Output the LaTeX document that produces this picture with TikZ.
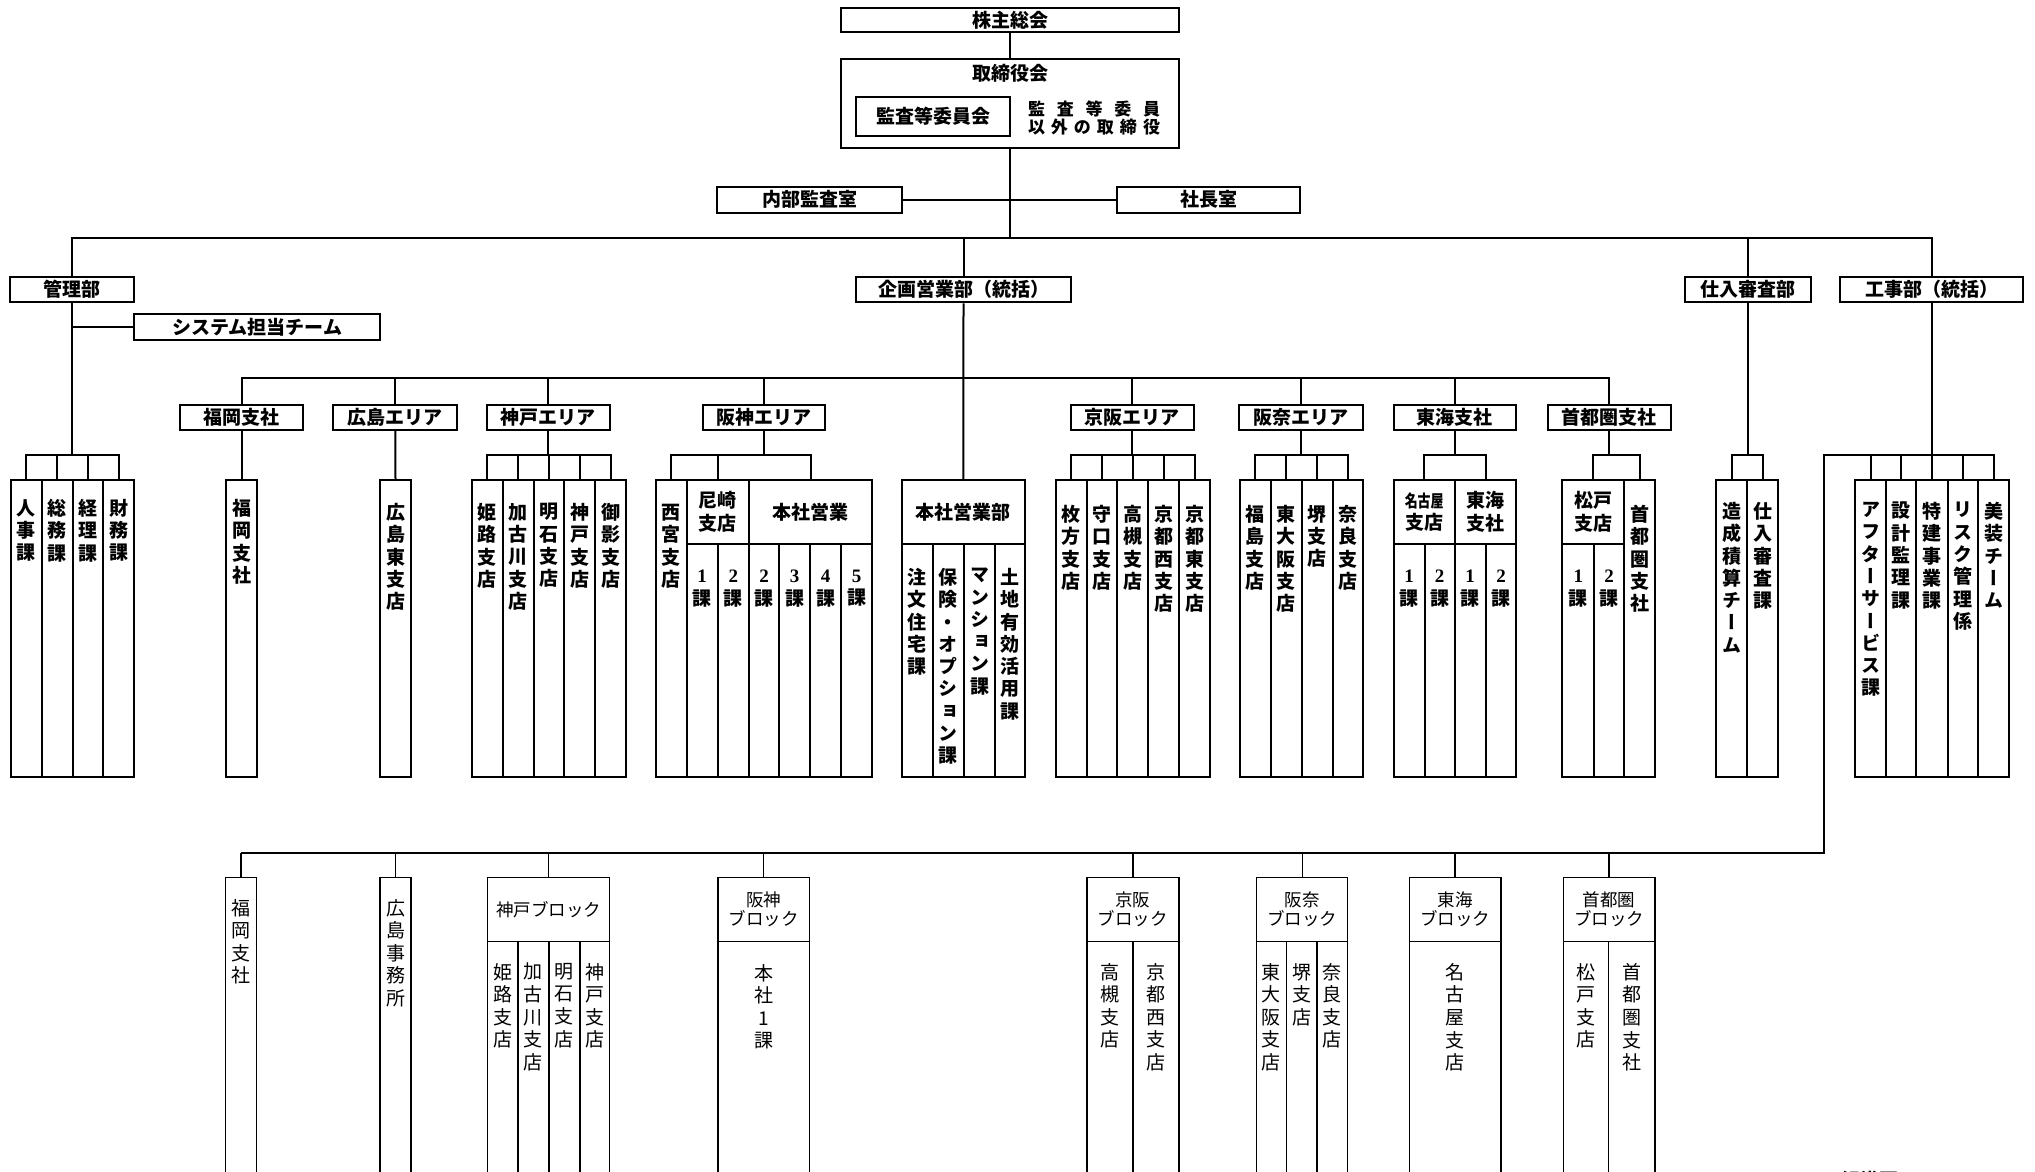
\documentclass[tikz,border=0pt]{standalone}
\usepackage{fontspec}
\usepackage{graphicx}
\setmainfont{Noto Sans CJK JP}
\newfontfamily\vertfont[RawFeature=+vert]{Noto Sans CJK JP}
\newfontfamily\digfont{Liberation Serif}
\newcommand\dg[1]{{\digfont\bfseries #1}}
\newcommand\fT{\fontsize{19}{22.5}\selectfont\bfseries}
\newcommand\fTv{\vertfont\fontsize{19}{22.3}\selectfont\bfseries}
\newcommand\fB{\fontsize{17.5}{19}\selectfont}
\newcommand\fBv{\vertfont\fontsize{19}{22.6}\selectfont}
\newcommand\fO{\fontsize{17}{18.5}\selectfont\bfseries}
\ExplSyntaxOn
\bool_new:N \l_vt_first_bool
\NewDocumentCommand\V{m}{
  \bool_set_true:N \l_vt_first_bool
  \tl_map_inline:nn {#1}
    { \bool_if:NF \l_vt_first_bool {\\} \bool_set_false:N \l_vt_first_bool ##1 }
}
\ExplSyntaxOff
\tikzset{
  ln/.style={line width=2pt},
  lnb/.style={line width=1.4pt},
  boxT/.style={draw, line width=2pt, inner sep=0pt, font=\fT, align=center},
  boxB/.style={draw, line width=1.4pt, inner sep=0pt, font=\fB, align=center},
  colT/.style={draw, line width=2pt, inner sep=0pt},
  colB/.style={draw, line width=1.4pt, inner sep=0pt},
  txtT/.style={inner sep=0pt, align=center, font=\fTv},
  txtB/.style={inner sep=0pt, align=center, font=\fBv},
}
% \bx[style]{name}{x1}{y1}{x2}{y2}{text}
\newcommand\bx[7][boxT]{\node[#1, minimum width={(#5-#3)*1pt}, minimum height={(#6-#4)*1pt}] (#2) at ({(#3+#5)/2},{(#4+#6)/2}) {#7};}
% \colT{name}{x1}{y1}{x2}{y2}{texttop}{text}
\newcommand\colT[7]{\node[colT, minimum width={(#4-#2)*1pt}, minimum height={(#5-#3)*1pt}] (#1) at ({(#2+#4)/2},{(#3+#5)/2}) {};
  \node[txtT, anchor=north] (#1t) at ({(#2+#4)/2},#6) {\V{#7}};}
\newcommand\colB[7]{\node[colB, minimum width={(#4-#2)*1pt}, minimum height={(#5-#3)*1pt}] (#1) at ({(#2+#4)/2},{(#3+#5)/2}) {};
  \node[txtB, anchor=north] (#1t) at ({(#2+#4)/2},#6) {\V{#7}};}
\begin{document}
\begin{tikzpicture}[x=1pt,y=-1pt]
\useasboundingbox (0,0) rectangle (2035,1172);
\fill[white] (0,0) rectangle (2035,1172);
\clip (0,0) rectangle (2035,1172);

% ---------- top ----------
\bx{kabu}{841}{8}{1179}{32}{株主総会}
\bx{tori}{841}{59}{1179}{148}{}
\node[inner sep=0pt, font=\fT] (toriT) at (1010,73) {取締役会};
\bx{kansa}{856}{97}{1010}{136}{監査等委員会}
\node[inner sep=0pt, font=\fO, align=center] (oth) at (1094,118)
  {\makebox[132pt][s]{監\hfil 査\hfil 等\hfil 委\hfil 員}\\\makebox[132pt][s]{以\hfil 外\hfil の\hfil 取\hfil 締\hfil 役}};
\bx{naibu}{717}{187}{902}{212.5}{内部監査室}
\bx{shacho}{1117}{187}{1300}{212.5}{社長室}

\coordinate (b1) at (1010,237.5);
\draw[ln] (kabu.south) -- (tori.north);
\draw[ln] (tori.south) -- (b1);
\draw[ln] (naibu.east) -- (shacho.west);

% ---------- level 1 ----------
\bx{kanri}{10}{276.5}{134}{302.3}{管理部}
\bx{kikaku}{856}{276.5}{1071}{302.3}{企画営業部（統括）}
\bx{shiire}{1685}{276.5}{1811}{302.3}{仕入審査部}
\bx{koji}{1840}{276.5}{2023}{302.3}{工事部（統括）}
\bx{sys}{134.3}{314}{380}{340}{システム担当チーム}

\draw[ln] (kanri.north) -- (kanri.north |- b1) -- (koji.north |- b1) -- (koji.north);
\draw[ln] (kikaku.north) -- (kikaku.north |- b1);
\draw[ln] (shiire.north) -- (shiire.north |- b1);

\coordinate (kb) at (0,455);
\coordinate (b2) at (0,378);
\coordinate (b3) at (0,852.7);

% 管理部 leaves
\colT{k1}{11}{480}{41.7}{777}{499}{人事課}
\colT{k2}{41.7}{480}{73}{777}{499}{総務課}
\colT{k3}{73}{480}{103.3}{777}{499}{経理課}
\colT{k4}{103.3}{480}{134.3}{777}{499}{財務課}
\draw[ln] (kanri.south) -- (kanri.south |- kb);
\draw[ln] (kanri.south |- sys.west) -- (sys.west);
\draw[ln] (k1.north) -- (k1.north |- kb) -- (k4.north |- kb) -- (k4.north);
\draw[ln] (k2.north) -- (k2.north |- kb);
\draw[ln] (k3.north) -- (k3.north |- kb);

% ---------- level 2 ----------
\bx{fuk}{180}{404.5}{303.3}{430}{福岡支社}
\bx{hiro}{333.3}{404.5}{457.3}{430}{広島エリア}
\bx{kobe}{486.7}{404.5}{610}{430}{神戸エリア}
\bx{hans}{702.7}{404.5}{825.3}{430}{阪神エリア}
\bx{keih}{1070.7}{404.5}{1194}{430}{京阪エリア}
\bx{hann}{1239.3}{404.5}{1362.7}{430}{阪奈エリア}
\bx{tokai}{1393.6}{404.5}{1516.3}{430}{東海支社}
\bx{shuto}{1547.7}{404.5}{1670.8}{430}{首都圏支社}

\draw[ln] (fuk.north) -- (fuk.north |- b2) -- (shuto.north |- b2) -- (shuto.north);
\foreach \n in {hiro,kobe,hans,keih,hann,tokai}
  \draw[ln] (\n.north) -- (\n.north |- b2);

% 福岡・広島
\colT{fukL}{226}{480}{257.3}{777}{499}{福岡支社}
\colT{hiroL}{380}{480}{411}{777}{503}{広島東支店}
\draw[ln] (fuk.south) -- (fukL.north);
\draw[ln] (hiro.south) -- (hiroL.north);

% 神戸
\colT{kb1}{471.7}{480}{502.7}{777}{503}{姫路支店}
\colT{kb2}{502.7}{480}{534}{777}{503}{加古川支店}
\colT{kb3}{534}{480}{564}{777}{503}{明石支店}
\colT{kb4}{564}{480}{595}{777}{503}{神戸支店}
\colT{kb5}{595}{480}{626}{777}{503}{御影支店}
\draw[ln] (kobe.south) -- (kobe.south |- kb);
\draw[ln] (kb1.north) -- (kb1.north |- kb) -- (kb5.north |- kb) -- (kb5.north);
\foreach \n in {kb2,kb3,kb4} \draw[ln] (\n.north) -- (\n.north |- kb);

% 阪神
\colT{nishi}{656}{480}{686.7}{777}{504}{西宮支店}
\bx{amaH}{686.7}{480}{749}{544}{尼崎\\支店}
\colT{am1}{686.7}{544}{717.7}{777}{570}{{\dg{1}}課}
\colT{am2}{717.7}{544}{749}{777}{570}{{\dg{2}}課}
\bx{honeH}{749}{480}{872}{544}{本社営業}
\colT{he2}{749}{544}{779}{777}{570}{{\dg{2}}課}
\colT{he3}{779}{544}{810}{777}{570}{{\dg{3}}課}
\colT{he4}{810}{544}{841}{777}{570}{{\dg{4}}課}
\colT{he5}{841}{544}{872}{777}{570}{{\dg{5}}課}
\draw[ln] (hans.south) -- (hans.south |- kb);
\draw[ln] (nishi.north) -- (nishi.north |- kb) -- (honeH.north |- kb) -- (honeH.north);
\draw[ln] (amaH.north) -- (amaH.north |- kb);

% 本社営業部
\bx{honsha}{901.7}{480}{1025}{544}{本社営業部}
\colT{hs1}{901.7}{544}{932.7}{777}{568}{注文住宅課}
\colT{hs2}{932.7}{544}{964}{777}{568}{保険・オプション課}
\colT{hs3}{964}{544}{995}{777}{568}{マンション課}
\colT{hs4}{995}{544}{1025}{777}{568}{土地有効活用課}
\draw[ln] (kikaku.south) -- (honsha.north);

% 京阪
\colT{kh1}{1055.7}{480}{1086.7}{777}{505}{枚方支店}
\colT{kh2}{1086.7}{480}{1117.3}{777}{505}{守口支店}
\colT{kh3}{1117.3}{480}{1148.3}{777}{505}{高槻支店}
\colT{kh4}{1148.3}{480}{1179}{777}{505}{京都西支店}
\colT{kh5}{1179}{480}{1210}{777}{505}{京都東支店}
\draw[ln] (keih.south) -- (keih.south |- kb);
\draw[ln] (kh1.north) -- (kh1.north |- kb) -- (kh5.north |- kb) -- (kh5.north);
\foreach \n in {kh2,kh3,kh4} \draw[ln] (\n.north) -- (\n.north |- kb);

% 阪奈
\colT{hn1}{1240}{480}{1270.7}{777}{505}{福島支店}
\colT{hn2}{1270.7}{480}{1301.7}{777}{505}{東大阪支店}
\colT{hn3}{1301.7}{480}{1332.7}{777}{505}{堺支店}
\colT{hn4}{1332.7}{480}{1362.7}{777}{505}{奈良支店}
\draw[ln] (hann.south) -- (hann.south |- kb);
\draw[ln] (hn1.north) -- (hn1.north |- kb) -- (hn4.north |- kb) -- (hn4.north);
\foreach \n in {hn2,hn3} \draw[ln] (\n.north) -- (\n.north |- kb);

% 東海
\bx{tkH1}{1393.6}{480}{1454.7}{544}{\fontsize{17}{20}\selectfont\scalebox{0.76}[1]{名古屋}\\支店}
\bx{tkH2}{1454.7}{480}{1516.3}{544}{東海\\支社}
\colT{tk1}{1393.6}{544}{1424.6}{777}{570}{{\dg{1}}課}
\colT{tk2}{1424.6}{544}{1454.7}{777}{570}{{\dg{2}}課}
\colT{tk3}{1454.7}{544}{1485.7}{777}{570}{{\dg{1}}課}
\colT{tk4}{1485.7}{544}{1516.3}{777}{570}{{\dg{2}}課}
\draw[ln] (tokai.south) -- (tokai.south |- kb);
\draw[ln] (tkH1.north) -- (tkH1.north |- kb) -- (tkH2.north |- kb) -- (tkH2.north);

% 首都圏
\bx{smH}{1562.3}{480}{1623.9}{544}{松戸\\支店}
\colT{sm1}{1562.3}{544}{1594.2}{777}{570}{{\dg{1}}課}
\colT{sm2}{1594.2}{544}{1623.9}{777}{570}{{\dg{2}}課}
\colT{smC}{1623.9}{480}{1655.3}{777}{505}{首都圏支社}
\draw[ln] (shuto.south) -- (shuto.south |- kb);
\draw[ln] (smH.north) -- (smH.north |- kb) -- (smC.north |- kb) -- (smC.north);

% 仕入審査部
\colT{sh1}{1716.4}{480}{1747.4}{777}{502}{造成積算チーム}
\colT{sh2}{1747.4}{480}{1777.6}{777}{502}{仕入審査課}
\draw[ln] (shiire.south) -- (shiire.south |- kb);
\draw[ln] (sh1.north) -- (sh1.north |- kb) -- (sh2.north |- kb) -- (sh2.north);

% 工事部
\colT{kj1}{1855}{480}{1886}{777}{502}{アフターサービス課}
\colT{kj2}{1886}{480}{1916.2}{777}{502}{設計監理課}
\colT{kj3}{1916.2}{480}{1947.6}{777}{502}{特建事業課}
\colT{kj4}{1947.6}{480}{1978.2}{777}{502}{リスク管理係}
\colT{kj5}{1978.2}{480}{2009.2}{777}{502}{美装チーム}
\draw[ln] (koji.south) -- (koji.south |- kb);
\foreach \n in {kj1,kj2,kj3,kj4} \draw[ln] (\n.north) -- (\n.north |- kb);

% ---------- bottom ----------
\colB{bfuk}{225.6}{877.7}{256.6}{1200}{899}{福岡支社}
\colB{bhiro}{380}{877.7}{411}{1200}{899}{広島事務所}
\bx[boxB]{bkobeH}{487.4}{877.7}{609.6}{941.7}{神戸ブロック}
\colB{bk1}{487.4}{941.7}{517.8}{1200}{963}{姫路支店}
\colB{bk2}{517.8}{941.7}{548.8}{1200}{963}{加古川支店}
\colB{bk3}{548.8}{941.7}{579.8}{1200}{963}{明石支店}
\colB{bk4}{579.8}{941.7}{609.6}{1200}{963}{神戸支店}
\bx[boxB]{bhansH}{718.1}{877.7}{809.4}{941.7}{阪神\\ブロック}
\colB{bhs1}{718.1}{941.7}{809.4}{1200}{964}{本社1課}
\bx[boxB]{bkeihH}{1087}{877.7}{1178.8}{941.7}{京阪\\ブロック}
\colB{bkh1}{1087}{941.7}{1132.9}{1200}{963}{高槻支店}
\colB{bkh2}{1132.9}{941.7}{1178.8}{1200}{963}{京都西支店}
\bx[boxB]{bhannH}{1256.7}{877.7}{1347.7}{941.7}{阪奈\\ブロック}
\colB{bhn1}{1256.7}{941.7}{1286.2}{1200}{963}{東大阪支店}
\colB{bhn2}{1286.2}{941.7}{1317}{1200}{963}{堺支店}
\colB{bhn3}{1317}{941.7}{1347.7}{1200}{963}{奈良支店}
\bx[boxB]{btokaiH}{1409.3}{877.7}{1501}{941.7}{東海\\ブロック}
\colB{btk1}{1409.3}{941.7}{1501}{1200}{963}{名古屋支店}
\bx[boxB]{bshutoH}{1563.2}{877.7}{1654.9}{941.7}{首都圏\\ブロック}
\colB{bsm1}{1563.2}{941.7}{1608.4}{1200}{963}{松戸支店}
\colB{bsm2}{1608.4}{941.7}{1654.9}{1200}{963}{首都圏支社}

\coordinate (kL) at (1824,455);
\draw[ln] (kj5.north) -- (kj5.north |- kb) -- (kL) -- (kL |- b3) -- (bfuk.north |- b3);
\draw[lnb] (bfuk.north |- b3) -- (bfuk.north);
\foreach \n in {bhiro,bkobeH,bhansH,bkeihH,bhannH,btokaiH,bshutoH}
  \draw[lnb] (\n.north) -- (\n.north |- b3);

\node[inner sep=0pt, font=\fT] (zufrag) at (1870,1180) {組織図};
\end{tikzpicture}
\end{document}
